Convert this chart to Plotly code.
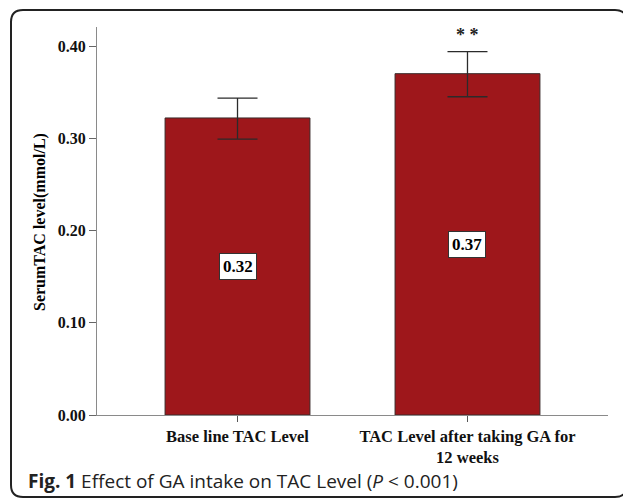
import plotly.graph_objects as go

categories = ["Base line TAC Level", "TAC Level after taking GA for<br>12 weeks"]
means = [0.322, 0.370]
err_plus = [0.0215, 0.024]
err_minus = [0.023, 0.025]
value_labels = ["0.32", "0.37"]
y_ticks = [0.0, 0.1, 0.2, 0.3, 0.4]
y_tick_labels = ["0.00", "0.10", "0.20", "0.30", "0.40"]
significance = ["", "* *"]

# page body has an 8px margin; work in page pixels and subtract it
OFF = 8
W, H = 631 - OFF, 499 - OFF
L, R, T, B = 97 - OFF, 608 - OFF, 27 - OFF, 415 - OFF

def px(x):
    return (x - OFF - L) / (R - L)

def py(y):
    return (B - (y - OFF)) / (B - T)

serif = "Liberation Serif"

fig = go.Figure()
fig.add_trace(go.Bar(
    x=[0, 1], y=means, width=0.63,
    marker=dict(color="#9E171B", line=dict(color="#3a2a2a", width=1)),
    error_y=dict(type="data", symmetric=False, array=err_plus, arrayminus=err_minus,
                 color="#2b2b2b", thickness=1.3, width=20),
    showlegend=False, hoverinfo="skip",
))

annotations = []
for i, (m, lab) in enumerate(zip(means, value_labels)):
    annotations.append(dict(
        x=i, y=m / 2, xref="x", yref="y", text=lab, showarrow=False,
        font=dict(family=serif, size=17, color="black", weight="bold"),
        bgcolor="white", bordercolor="#333333", borderwidth=1, borderpad=3,
    ))
for i, (m, e, s) in enumerate(zip(means, err_plus, significance)):
    if s:
        annotations.append(dict(
            x=i, y=m + e, xref="x", yref="y", text=s, showarrow=False,
            yanchor="bottom", yshift=5,
            font=dict(family=serif, size=18, color="#222", weight="bold"),
        ))
annotations.append(dict(
    x=px(40), y=py(222), xref="paper", yref="paper", text="SerumTAC level(mmol/L)",
    textangle=-90, showarrow=False, xanchor="center", yanchor="middle",
    font=dict(family=serif, size=16, color="black", weight="bold"),
))
annotations.append(dict(
    x=px(26), y=py(481), xref="paper", yref="paper",
    text="<b>Fig. 1</b> Effect of GA intake on TAC Level (<i>P</i> &lt; 0.001)",
    showarrow=False, xanchor="left", yanchor="middle",
    font=dict(family="Open Sans", size=19, color="#222"),
))

# rounded frame
x0, x1, y0, y1 = px(11), px(627), py(497), py(10)
rx, ry = 12 / (R - L), 12 / (B - T)
path = (f"M {x0+rx},{y1} L {x1-rx},{y1} Q {x1},{y1} {x1},{y1-ry} "
        f"L {x1},{y0+ry} Q {x1},{y0} {x1-rx},{y0} L {x0+rx},{y0} "
        f"Q {x0},{y0} {x0},{y0+ry} L {x0},{y1-ry} Q {x0},{y1} {x0+rx},{y1} Z")

fig.update_layout(
    width=W, height=H,
    margin=dict(l=L, r=W - R, t=T, b=H - B, pad=0),
    paper_bgcolor="white", plot_bgcolor="white",
    annotations=annotations,
    shapes=[dict(type="path", path=path, xref="paper", yref="paper",
                 line=dict(color="#222", width=2), layer="above")],
    xaxis=dict(
        range=[-0.611, 1.611], tickmode="array", tickvals=[0, 1], ticktext=categories,
        showgrid=False, zeroline=False, showline=True, linecolor="#8a8a8a", linewidth=1.3,
        ticks="outside", ticklen=6, tickcolor="#555", tickwidth=1,
        tickfont=dict(family=serif, size=16.5, color="#111", weight="bold"),
    ),
    yaxis=dict(
        range=[0, 0.4206], tickmode="array", tickvals=y_ticks, ticktext=y_tick_labels,
        showgrid=False, zeroline=False, showline=True, linecolor="#8a8a8a", linewidth=1.3,
        ticks="outside", ticklen=7, tickcolor="#666", tickwidth=1,
        tickfont=dict(family=serif, size=16, color="#111", weight="bold"),
    ),
)

fig.write_html("out.html")
